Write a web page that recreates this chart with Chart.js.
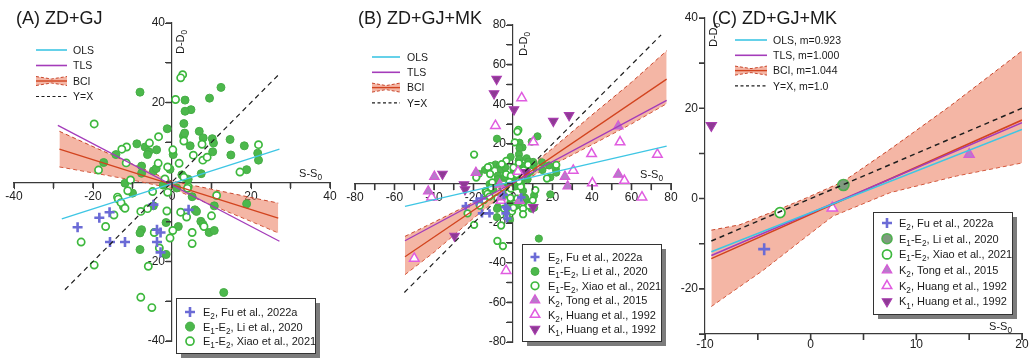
<!DOCTYPE html>
<html>
<head>
<meta charset="utf-8">
<script src="https://cdn.jsdelivr.net/npm/chart.js@4.4.1/dist/chart.umd.min.js"></script>
<style>
  html, body { margin: 0; padding: 0; background: #fff; }
  body { position: relative; width: 1033px; height: 358px; overflow: hidden; }
  canvas { position: absolute; top: 0; }
</style>
</head>
<body>
<canvas id="chartA" width="345" height="358" style="left:0px"></canvas>
<canvas id="chartB" width="345" height="358" style="left:340px"></canvas>
<canvas id="chartC" width="357" height="358" style="left:676px"></canvas>
<script>
// ---------- data: (S-S0, D-D0) pairs ----------
const fuE2 = [[-23.9,-11.4],[-18.4,-9.0],[-15.8,-7.6],[-15.7,-15.1],[-11.9,-15.1],[-4.7,-5.7],
  [-3.8,-12.0],[-2.9,-12.7],[-3.8,-15.1],[-2.9,-17.7],[4.2,-7.0]];

const liE1E2 = [[-8.1,22.6],[12.4,23.8],[3.3,20.6],[9.5,21.1],[4.8,18.2],[3.3,17.8],[3.0,14.7],
  [-1.2,13.4],[6.9,12.75],[2.9,11.6],[3.2,12.3],[7.9,11.1],[10.2,10.9],[10.5,9.8],[14.7,10.7],
  [4.6,9.1],[-8.9,9.6],[-6.8,8.8],[-5.9,7.6],[-6.2,6.9],[-3.9,8.1],[18.3,9.1],[21.7,7.25],
  [21.9,5.5],[14.9,6.8],[10.3,7.6],[-14.2,6.9],[-17.3,4.9],[-7.7,4.0],[-4.7,2.8],[7.4,2.1],
  [18.9,3.1],[0.3,6.9],[-4.0,3.4],[-0.5,3.2],[-11.9,-0.3],[-10.0,-2.8],[-12.3,-6.2],[-1.5,-10.2],
  [-7.7,-12.0],[-8.1,-12.8],[-1.5,-18.25],[-8.1,-17.0],[13.1,-27.8],[5.8,-7.0],[6.2,-7.4],
  [7.3,-9.9],[7.8,-10.6],[1.6,-11.2],[9.4,-12.7],[10.7,-12.2],[18.9,-5.5],[10.7,-6.0],[5.1,-3.7],
  [-7.7,2.2],[4.1,0.7],[-4.7,-6.0],[1.2,-1.5],[-2.2,-0.8],[2.5,1.8]];

const xiaoE1E2 = [[2.7,27.0],[2.2,26.2],[0.9,20.75],[-19.7,14.6],[-3.4,11.4],[3.0,10.3],[-5.7,9.8],
  [-11.5,8.8],[-12.7,8.25],[0.2,8.1],[21.9,9.4],[7.6,9.5],[7.8,5.5],[8.9,6.25],[5.4,6.75],
  [-11.6,4.8],[-18.6,3.0],[-3.5,4.7],[-1.1,3.8],[1.8,4.7],[17.2,2.5],[-1.8,0.75],[-10.5,0.5],
  [-13.8,-3.8],[11.3,-3.4],[4.1,-1.2],[-11.2,-2.2],[-13.6,-4.3],[-12.9,-5.2],[-11.9,-6.6],
  [-14.7,-8.3],[-16.8,-11.2],[-23.0,-15.1],[-19.7,-20.9],[-6.2,-6.7],[-7.9,-7.4],[-1.3,-7.3],
  [-4.5,-12.7],[-0.5,-14.1],[0.2,-12.2],[-3.2,-16.6],[-6.0,-21.2],[-7.9,-29.0],[-5.1,-31.6],
  [2.2,-7.6],[3.7,-8.8],[10.0,-8.5],[8.1,-11.2],[5.1,-12.7],[5.1,-15.5],[-4.9,-2.4],[3.9,-1.6],
  [-1.1,-2.6],[3.0,1.2]];

const tongK2 = [[-39.8,3.5],[-42.9,-3.9],[-18.8,5.5],[-6.7,-0.5],[3.3,-8.6],[26.3,3.5],
  [27.7,-1.4],[53.3,28.9],[53.3,4.6],[-6.1,-6.9]];

const huangK2 = [[4.4,43.2],[-8.9,29.2],[10.3,20.9],[54.2,20.9],[39.8,15.0],[73.1,14.7],[30.5,6.6],
  [2.5,6.0],[-41.2,-6.9],[56.4,1.5],[65.3,-6.9],[-50.0,-37.8],[-3.5,-44.0],[-6.1,-8.6],[40.2,0.2]];

const huangK1 = [[-8.3,52.7],[-9.6,45.4],[0.5,37.3],[20.4,31.5],[28.4,34.4],[-35.7,4.8],
  [-24.8,-0.5],[-24.3,-3.0],[6.4,5.7],[10.2,-12.0],[-29.6,-26.5]];

// group medians
const medFu = [[-4.4,-11.2]];
const medLi = [[3.1,3.0]];
const medXiao = [[-2.9,-3.1]];
const medTong = [[15.0,9.8]];
const medHuangK2 = [[2.05,-2.1]];
const medHuangK1 = [[-9.4,16.2]];

// ---------- regression lines and bootstrap bands ----------
const olsA = [[-27.9,-9.3],[27.2,8.25]];
const tlsA = [[-28.9,14.25],[27.2,-14.9]];
const bciA = [[-28.5,8.25],[26.9,-9.1]];
const idA = [[-27.1,-27.1],[26.9,26.9]];
const bciUpperA = [[-28.5,12.75],[-20,8.9],[-10,4.5],[0,0.2],[10,-1.8],[20,-3.9],[26.9,-5.3]];
const bciLowerA = [[-28.5,3.8],[-20,2.3],[-10,0.5],[0,-1.6],[10,-5.8],[20,-9.9],[26.9,-12.8]];

const olsB = [[-54.7,-11.5],[77.8,18.9]];
const tlsB = [[-54.7,-28.9],[77.8,42.0]];
const bciB = [[-54.7,-37.0],[77.8,52.7]];
const idB = [[-55,-55],[75,75]];
const bciUpperB = [[-54.7,-26.7],[-40,-19.5],[-20,-9.5],[0,1.5],[20,17.7],[40,34.6],[60,51.1],[77.8,67.0]];
const bciLowerB = [[-54.7,-46.0],[-40,-34.7],[-20,-17.5],[0,-1.5],[20,9.3],[40,19.6],[60,30.1],[77.8,40.3]];

const olsC = [[-9.4,-11.8],[20,15.3]];
const tlsC = [[-9.4,-12.6],[20,16.8]];
const bciC = [[-9.4,-13.3],[20,17.4]];
const idC = [[-9.4,-9.4],[20,20]];
const bciUpperC = [[-9.4,-7.0],[-6.7,-5.8],[-2.9,-2.3],[-0.4,0.15],[3.1,3.8],[7.5,10.9],[13.2,20.5],[20,32.7]];
const bciLowerC = [[-9.4,-23.9],[-4.45,-15.8],[-0.4,-8.4],[2.1,-3.9],[7.5,1.3],[13.8,5.0],[20,7.9]];

// ---------- tick labels ----------
const xLabelsA = [-40,-20,0,20,40];
const yLabelsA = [-40,-20,20,40];
const xLabelsB = [-80,-60,-40,-20,0,20,40,60,80];
const yLabelsB = [-80,-60,-40,-20,20,40,60,80];
const xLabelsC = [-10,0,10,20];
const yLabelsC = [-20,0,20,40];

// ---------- text ----------
const lineLabelsAB = ['OLS','TLS','BCI','Y=X'];
const lineLabelsC = ['OLS, m=0.923','TLS, m=1.000','BCI, m=1.044','Y=X, m=1.0'];
const groupLabels = ['E_2, Fu et al., 2022a','E_1-E_2, Li et al., 2020','E_1-E_2, Xiao et al., 2021',
  'K_2, Tong et al., 2015','K_2, Huang et al., 1992','K_1, Huang et al., 1992'];

// ---------- styling ----------
const FONT = '"Liberation Sans", Arial, Helvetica, sans-serif';
const C_OLS = '#3ec6e4', C_TLS = '#a43cba', C_BCI = '#d2441f', C_ID = '#1e1e1e';
const C_BAND = 'rgba(236,130,100,0.58)', C_BANDEDGE = '#c8452a';
const AXIS = '#3a3a3a';
const TICK_LEN = 6;

const MK = {
  fu:     {style:'cross',    fill:'#6b6bd6', stroke:'#6b6bd6', bw:2.6, rot:0},
  li:     {style:'circle',   fill:'#4cb84c', stroke:'#46ad46', bw:1,   rot:0},
  liC:    {style:'circle',   fill:'#7f9a7f', stroke:'#4fb04f', bw:1.6, rot:0},
  xiao:   {style:'circle',   fill:'#ffffff', stroke:'#3db83d', bw:1.7, rot:0},
  tong:   {style:'triangle', fill:'#b67cc9', stroke:'#d75ad7', bw:1.2, rot:0},
  huang2: {style:'triangle', fill:'#ffffff', stroke:'#e05ce0', bw:1.5, rot:0},
  huang1: {style:'triangle', fill:'#8e3a94', stroke:'#a83cae', bw:1.1, rot:180}
};

function pts(arr) { return arr.map(([x, y]) => ({x, y})); }

function markerSet(label, arr, m, r, order) {
  return {type:'scatter', label, data:pts(arr), showLine:false, order,
    pointStyle:m.style, pointRadius:r, pointBackgroundColor:m.fill, pointBorderColor:m.stroke,
    pointBorderWidth:m.bw, pointRotation:m.rot};
}
function lineSet(label, arr, color, width, dash, order) {
  return {type:'line', label, data:pts(arr), borderColor:color, borderWidth:width,
    borderDash:dash || [], pointRadius:0, fill:false, tension:0, order};
}
function bandSets(upper, lower, order) {
  return [
    {type:'line', label:'BCI upper', data:pts(upper), borderColor:C_BANDEDGE, borderWidth:1,
      borderDash:[4,3], pointRadius:0, tension:0, fill:'+1', backgroundColor:C_BAND, order},
    {type:'line', label:'BCI lower', data:pts(lower), borderColor:C_BANDEDGE, borderWidth:1,
      borderDash:[4,3], pointRadius:0, tension:0, fill:false, order:order + 1}
  ];
}

// ---------- rich text with subscripts ("_x" marks a subscript character) ----------
function parseRich(s) {
  const out = []; let buf = '';
  for (let i = 0; i < s.length; i++) {
    if (s[i] === '_') { if (buf) out.push([buf, false]); buf = ''; out.push([s[i + 1], true]); i++; }
    else buf += s[i];
  }
  if (buf) out.push([buf, false]);
  return out;
}
function richWidth(ctx, s, size) {
  let w = 0;
  for (const [t, sub] of parseRich(s)) {
    ctx.font = (sub ? size * 0.75 : size) + 'px ' + FONT;
    w += ctx.measureText(t).width;
  }
  return w;
}
function drawRich(ctx, s, x, y, size, align) {
  let cx = align === 'right' ? x - richWidth(ctx, s, size) : x;
  ctx.textBaseline = 'alphabetic';
  ctx.textAlign = 'left';
  for (const [t, sub] of parseRich(s)) {
    ctx.font = (sub ? size * 0.75 : size) + 'px ' + FONT;
    ctx.fillText(t, cx, sub ? y + size * 0.28 : y);
    cx += ctx.measureText(t).width;
  }
}
function drawMarker(ctx, m, r, x, y) {
  ctx.save();
  ctx.fillStyle = m.fill; ctx.strokeStyle = m.stroke; ctx.lineWidth = m.bw;
  Chart.helpers.drawPoint(ctx, {pointStyle:m.style, radius:r, rotation:m.rot, borderWidth:m.bw}, x, y);
  ctx.restore();
}

// tick marks on every axis tick, placed with the scales' own pixel mapping
function drawTickMarks(chart) {
  const ctx = chart.ctx;
  const xs = chart.scales.x, ys = chart.scales.y;
  ctx.save();
  ctx.strokeStyle = AXIS; ctx.lineWidth = 1.6; ctx.setLineDash([]);
  ctx.beginPath();
  const xAxisY = xs.options.position === 'center' ? Math.round(ys.getPixelForValue(0)) : Math.round(xs.top);
  xs.ticks.forEach(t => {
    const px = xs.getPixelForValue(t.value);
    ctx.moveTo(px, xAxisY); ctx.lineTo(px, xAxisY + TICK_LEN);
  });
  const yAxisX = ys.options.position === 'center' ? Math.round(xs.getPixelForValue(0)) : Math.round(ys.right);
  ys.ticks.forEach(t => {
    const py = ys.getPixelForValue(t.value);
    ctx.moveTo(yAxisX, py); ctx.lineTo(yAxisX - TICK_LEN, py);
  });
  ctx.stroke();
  ctx.restore();
}

// ---------- decorations: titles, axis names, legends ----------
const decorPlugin = {
  id: 'panelDecor',
  afterDraw(chart, args, o) {
    if (!o || !o.title) return;
    const ctx = chart.ctx;
    drawTickMarks(chart);
    ctx.save();
    ctx.fillStyle = '#1a1a1a';
    // panel title
    ctx.font = '18px ' + FONT;
    ctx.textBaseline = 'alphabetic'; ctx.textAlign = 'left';
    ctx.fillText(o.title.text, o.title.x, o.title.y);
    // axis names
    drawRich(ctx, 'S-S_0', o.xName.x, o.xName.y, 11, 'right');
    ctx.save();
    ctx.translate(o.yName.x, o.yName.y);
    ctx.rotate(-Math.PI / 2);
    drawRich(ctx, 'D-D_0', 0, 0, 11, 'left');
    ctx.restore();

    // line legend
    const L = o.lineLegend;
    L.labels.forEach((lab, i) => {
      const y = L.y + i * L.dy;
      const x0 = L.x, x1 = L.x + L.len;
      ctx.save();
      if (i === 0 || i === 1) {
        ctx.strokeStyle = i === 0 ? C_OLS : C_TLS; ctx.lineWidth = 1.6;
        ctx.beginPath(); ctx.moveTo(x0, y); ctx.lineTo(x1, y); ctx.stroke();
      } else if (i === 2) {
        const xm = (x0 + x1) / 2;
        ctx.fillStyle = C_BAND;
        ctx.beginPath();
        ctx.moveTo(x0, y - 4.5); ctx.lineTo(xm, y - 2); ctx.lineTo(x1, y - 4.5);
        ctx.lineTo(x1, y + 4.5); ctx.lineTo(xm, y + 2); ctx.lineTo(x0, y + 4.5); ctx.closePath();
        ctx.fill();
        ctx.strokeStyle = C_BANDEDGE; ctx.lineWidth = 1; ctx.setLineDash([3, 2]);
        ctx.beginPath(); ctx.moveTo(x0, y - 4.5); ctx.lineTo(xm, y - 2); ctx.lineTo(x1, y - 4.5); ctx.stroke();
        ctx.beginPath(); ctx.moveTo(x0, y + 4.5); ctx.lineTo(xm, y + 2); ctx.lineTo(x1, y + 4.5); ctx.stroke();
        ctx.setLineDash([]);
        ctx.strokeStyle = C_BCI; ctx.lineWidth = 1.4;
        ctx.beginPath(); ctx.moveTo(x0, y); ctx.lineTo(x1, y); ctx.stroke();
      } else {
        ctx.strokeStyle = C_ID; ctx.lineWidth = 1.2; ctx.setLineDash([3, 2.5]);
        ctx.beginPath(); ctx.moveTo(x0, y); ctx.lineTo(x1, y); ctx.stroke();
      }
      ctx.restore();
      ctx.fillStyle = '#1a1a1a';
      ctx.font = L.size + 'px ' + FONT;
      ctx.textAlign = 'left'; ctx.textBaseline = 'alphabetic';
      ctx.fillText(lab, x1 + L.gap, y + L.size * 0.36);
    });

    // marker legend box with drop shadow
    const M = o.markerLegend;
    ctx.fillStyle = '#7c7c7c';
    ctx.fillRect(M.x + 5, M.y + 5, M.w, M.h);
    ctx.fillStyle = '#ffffff';
    ctx.fillRect(M.x, M.y, M.w, M.h);
    ctx.strokeStyle = '#333'; ctx.lineWidth = 1;
    ctx.strokeRect(M.x + 0.5, M.y + 0.5, M.w, M.h);
    M.items.forEach((it, i) => {
      const y = M.rowY + i * M.dy;
      drawMarker(ctx, it.m, it.r, M.mx, y);
      ctx.fillStyle = '#1a1a1a';
      drawRich(ctx, it.label, M.tx, y + M.size * 0.36, M.size, 'left');
    });
    ctx.restore();
  }
};
Chart.register(decorPlugin);

function axisOpts(min, max, step, labels, pos, extra, pad) {
  return Object.assign({
    type:'linear', min, max, position:pos,
    ticks:{stepSize:step, autoSkip:false, maxRotation:0, padding:pad === undefined ? 1 : pad, color:'#222',
      font:{family:FONT, size:12},
      callback: v => labels.includes(v) ? String(v) : ''},
    grid:{display:true, drawOnChartArea:false, drawTicks:true, tickLength:TICK_LEN, color:AXIS, tickColor:AXIS, lineWidth:1},
    border:{display:true, color:AXIS, width:1.2}
  }, extra || {});
}

function baseOptions(scales, padding, decor) {
  return {
    responsive:false, animation:false, events:[],
    layout:{padding},
    scales,
    plugins:{legend:{display:false}, tooltip:{enabled:false}, title:{display:false}, panelDecor:decor}
  };
}

// ---------- panel A ----------
new Chart(document.getElementById('chartA'), {
  type:'scatter',
  data:{datasets:[
    lineSet('OLS', olsA, C_OLS, 1.3, null, 1),
    lineSet('TLS', tlsA, C_TLS, 1.3, null, 2),
    lineSet('BCI', bciA, C_BCI, 1.3, null, 3),
    lineSet('Y=X', idA, C_ID, 1.2, [5,4], 4),
    markerSet(groupLabels[0], fuE2, MK.fu, 5, 10),
    markerSet(groupLabels[1], liE1E2, MK.li, 4, 12),
    markerSet(groupLabels[2], xiaoE1E2, MK.xiao, 3.6, 11),
    ...bandSets(bciUpperA, bciLowerA, 30)
  ]},
  options: baseOptions({
      x: axisOpts(-40, 40, 10, xLabelsA, 'center'),
      y: axisOpts(-40, 40, 10, yLabelsA, 'center')
    }, {left:14, right:15, top:23, bottom:17},
    {
      title:{text:'(A) ZD+GJ', x:16, y:23.5},
      xName:{x:322, y:177},
      yName:{x:184, y:54},
      lineLegend:{labels:lineLabelsAB, x:36, len:31, gap:6, y:50, dy:15.5, size:10.5},
      markerLegend:{x:176, y:298, w:139, h:55, rowY:312, dy:14.6, mx:190, tx:203, size:11,
        items:[{m:MK.fu, r:5, label:groupLabels[0]}, {m:MK.li, r:4.5, label:groupLabels[1]},
               {m:MK.xiao, r:4, label:groupLabels[2]}]}
    })
});

// ---------- panel B ----------
new Chart(document.getElementById('chartB'), {
  type:'scatter',
  data:{datasets:[
    lineSet('OLS', olsB, C_OLS, 1.3, null, 1),
    lineSet('TLS', tlsB, C_TLS, 1.4, null, 2),
    lineSet('BCI', bciB, C_BCI, 1.3, null, 3),
    lineSet('Y=X', idB, C_ID, 1.2, [5,4], 4),
    markerSet(groupLabels[0], fuE2, MK.fu, 4.2, 10),
    markerSet(groupLabels[1], liE1E2, MK.li, 3.6, 15),
    markerSet(groupLabels[2], xiaoE1E2, MK.xiao, 3.3, 14),
    markerSet(groupLabels[3], tongK2, MK.tong, 5.5, 11),
    markerSet(groupLabels[4], huangK2, MK.huang2, 5.5, 12),
    markerSet(groupLabels[5], huangK1, MK.huang1, 5.5, 13),
    ...bandSets(bciUpperB, bciLowerB, 30)
  ]},
  options: baseOptions({
      x: axisOpts(-80, 80, 10, xLabelsB, 'center'),
      y: axisOpts(-80, 80, 10, yLabelsB, 'center')
    }, {left:15, right:14, top:25, bottom:16},
    {
      title:{text:'(B) ZD+GJ+MK', x:18, y:23.5},
      xName:{x:323, y:178},
      yName:{x:187, y:56},
      lineLegend:{labels:lineLabelsAB, x:32, len:28, gap:7, y:57, dy:15.3, size:10.5},
      markerLegend:{x:182, y:244, w:139, h:97, rowY:257, dy:14.4, mx:195, tx:208, size:11,
        items:[{m:MK.fu, r:4.5, label:groupLabels[0]}, {m:MK.li, r:4, label:groupLabels[1]},
               {m:MK.xiao, r:3.8, label:groupLabels[2]}, {m:MK.tong, r:5.5, label:groupLabels[3]},
               {m:MK.huang2, r:5.5, label:groupLabels[4]}, {m:MK.huang1, r:5.5, label:groupLabels[5]}]}
    })
});

// ---------- panel C ----------
new Chart(document.getElementById('chartC'), {
  type:'scatter',
  data:{datasets:[
    lineSet('OLS', olsC, C_OLS, 1.6, null, 1),
    lineSet('TLS', tlsC, C_TLS, 1.6, null, 2),
    lineSet('BCI', bciC, C_BCI, 1.6, null, 3),
    lineSet('Y=X', idC, C_ID, 1.5, [5,4], 4),
    markerSet(groupLabels[0], medFu, MK.fu, 6, 10),
    markerSet(groupLabels[1], medLi, MK.liC, 5.5, 11),
    markerSet(groupLabels[2], medXiao, MK.xiao, 5, 12),
    markerSet(groupLabels[3], medTong, MK.tong, 6, 13),
    markerSet(groupLabels[4], medHuangK2, MK.huang2, 6, 14),
    markerSet(groupLabels[5], medHuangK1, MK.huang1, 6, 15),
    ...bandSets(bciUpperC, bciLowerC, 30)
  ]},
  options: baseOptions({
      x: axisOpts(-10, 20, 5, xLabelsC, 'bottom', {afterFit: s => { s.height = 24; }}, -3),
      y: axisOpts(-30, 40, 10, yLabelsC, 'left', {afterFit: s => { s.width = 29; }})
    }, {left:0, right:11, top:18, bottom:0},
    {
      title:{text:'(C) ZD+GJ+MK', x:36, y:23.5},
      xName:{x:336, y:330},
      yName:{x:41, y:47},
      lineLegend:{labels:lineLabelsC, x:59, len:32, gap:6, y:40, dy:15.3, size:10.5},
      markerLegend:{x:197, y:212, w:139, h:102, rowY:223, dy:15.7, mx:211, tx:223, size:11,
        items:[{m:MK.fu, r:5, label:groupLabels[0]}, {m:MK.liC, r:5, label:groupLabels[1]},
               {m:MK.xiao, r:4.5, label:groupLabels[2]}, {m:MK.tong, r:5.5, label:groupLabels[3]},
               {m:MK.huang2, r:5.5, label:groupLabels[4]}, {m:MK.huang1, r:5.5, label:groupLabels[5]}]}
    })
});
</script>
</body>
</html>
